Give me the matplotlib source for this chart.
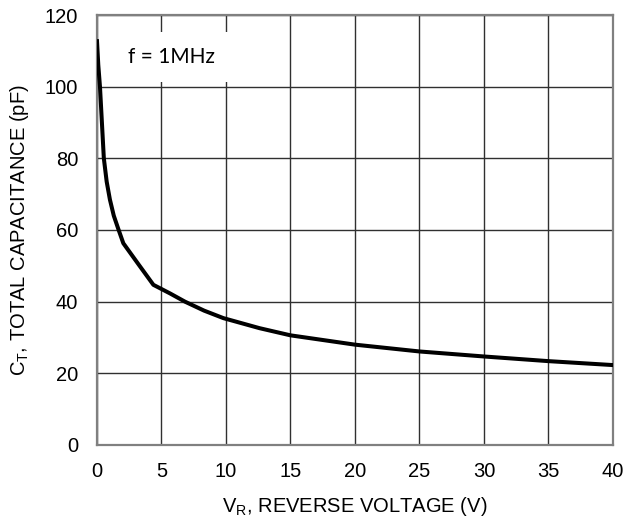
import matplotlib
matplotlib.use("Agg")
import matplotlib.pyplot as plt

# reverse voltage (V) vs total capacitance (pF)
vr = [0, 0.1, 0.23, 0.38, 0.53, 0.75, 1.0, 1.3, 1.65, 2.04, 3.2, 4.37,
      5.66, 6.82, 8.3, 9.8, 12.6, 15, 20, 25, 30, 35, 40]
ct = [112.7, 106, 100, 90, 80, 73.5, 68.5, 64, 60.3, 56.3, 50.5, 44.7,
      42.3, 40, 37.5, 35.4, 32.6, 30.6, 28.0, 26.1, 24.7, 23.4, 22.3]

x_ticks = [0, 5, 10, 15, 20, 25, 30, 35, 40]
y_ticks = [0, 20, 40, 60, 80, 100, 120]

plt.rcParams['font.family'] = ['Liberation Sans', 'DejaVu Sans']
plt.rcParams['mathtext.default'] = 'regular'

fig = plt.figure(figsize=(6.39, 5.21), dpi=100)
ax = fig.add_axes([0.1518, 0.1459, 0.8075, 0.8253])

ax.plot(vr, ct, color='black', lw=2.9, solid_joinstyle='round', zorder=3)

ax.set_xlim(0, 40)
ax.set_ylim(0, 120)
ax.set_xticks(x_ticks)
ax.set_yticks(y_ticks)
ax.grid(True, color='#303030', lw=1.0)
ax.set_axisbelow(True)
ax.tick_params(axis='y', length=0, labelsize=14.5, pad=13.5)
ax.tick_params(axis='x', length=0, labelsize=14.5, pad=12)
for s in ax.spines.values():
    s.set_color('#808080')
    s.set_linewidth(1.6)

ax.set_xlabel('V$_R$, REVERSE VOLTAGE (V)', fontsize=14.5, labelpad=10)
ax.set_ylabel('C$_T$, TOTAL CAPACITANCE (pF)', fontsize=14.5, labelpad=10)

ax.text(5.75, 108.2, 'f = 1MHz', fontsize=15, family=['Lato', 'DejaVu Sans'],
        ha='center', va='center', zorder=2,
        bbox=dict(facecolor='white', edgecolor='none', pad=11))

fig.savefig('out.png', dpi=100)
